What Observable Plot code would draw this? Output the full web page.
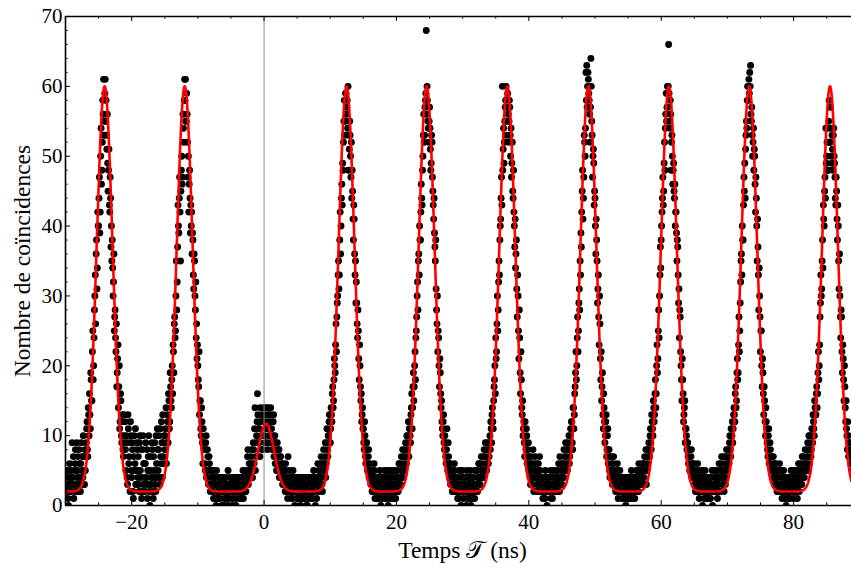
<!DOCTYPE html>
<html><head><meta charset="utf-8">
<script src="https://cdn.jsdelivr.net/npm/d3@7"></script>
<script src="https://cdn.jsdelivr.net/npm/@observablehq/plot@0.6"></script>
<style>
html,body{margin:0;padding:0;background:#fff;}
#chart svg{display:block; font-family:'Liberation Serif','Times New Roman','DejaVu Serif',serif !important;}
#chart svg text{font-family:'Liberation Serif','Times New Roman','DejaVu Serif',serif;}
</style>
</head><body><div id="chart"></div>
<script>
// Histogram of coincidences. Two interleaved series of bins (0.125 ns apart each):
// "counts" at -30 + i*0.125, "countsMid" at -30 + 0.0625 + i*0.125 (8 values per line = 1 ns)
const binStart = -30;
const binWidth = 0.125;
const counts = [
/* -30 */ 4,2,5,1,3,6,2,4,
/* -29 */ 9,3,1,5,8,2,4,7,
/* -28 */ 3,6,2,9,5,4,7,3,
/* -27 */ 5,9,12,7,13,16,11,18,
/* -26 */ 15,25,20,28,33,36,31,42,
/* -25 */ 40,47,42,54,48,58,61,55,
/* -24 */ 61,58,51,49,48,43,47,37,
/* -23 */ 35,34,32,25,28,22,17,21,
/* -22 */ 14,20,12,15,9,13,7,10,
/* -21 */ 12,5,9,3,11,7,2,10,
/* -20 */ 4,8,1,10,6,3,9,5,
/* -19 */ 7,2,10,4,1,8,3,6,
/* -18 */ 2,9,4,1,7,3,0,5,
/* -17 */ 3,8,1,4,9,2,6,11,
/* -16 */ 5,10,3,7,12,4,9,6,
/* -15 */ 8,11,6,13,9,15,12,17,
/* -14 */ 14,20,23,19,27,25,35,32,
/* -13 */ 43,39,47,35,48,46,56,52,
/* -12 */ 61,61,55,56,47,42,48,39,
/* -11 */ 40,36,38,31,35,28,24,21,
/* -10 */ 20,17,13,15,10,12,6,9,
/*  -9 */ 8,5,10,4,7,3,6,2,
/*  -8 */ 4,2,5,1,3,4,0,2,
/*  -7 */ 3,1,4,2,3,0,4,2,
/*  -6 */ 1,3,4,2,0,3,2,4,
/*  -5 */ 2,4,1,3,4,2,0,3,
/*  -4 */ 4,2,3,1,2,4,3,1,
/*  -3 */ 3,5,2,4,7,3,6,4,
/*  -2 */ 5,8,4,9,6,14,7,10,
/*  -1 */ 16,9,11,7,12,8,13,10,
/*   0 */ 12,9,14,11,8,14,10,13,
/*   1 */ 14,11,9,12,7,10,8,5,
/*   2 */ 9,6,8,5,7,4,6,3,
/*   3 */ 5,3,6,2,4,7,3,5,
/*   4 */ 2,4,1,5,3,0,4,2,
/*   5 */ 3,1,4,2,0,3,4,1,
/*   6 */ 2,4,3,0,3,1,4,2,
/*   7 */ 4,1,3,2,5,3,0,4,
/*   8 */ 3,6,2,5,4,7,3,6,
/*   9 */ 8,5,9,6,11,7,10,13,
/*  10 */ 9,14,12,17,15,21,19,26,
/*  11 */ 27,30,35,33,42,40,46,49,
/*  12 */ 52,58,55,59,57,54,48,51,
/*  13 */ 53,47,44,45,38,41,33,29,
/*  14 */ 29,24,25,18,20,15,12,14,
/*  15 */ 11,8,10,6,9,5,7,4,
/*  16 */ 6,3,5,2,4,6,1,3,
/*  17 */ 2,4,1,3,5,0,3,2,
/*  18 */ 4,2,3,5,1,3,0,4,
/*  19 */ 1,3,5,2,4,2,3,1,
/*  20 */ 3,5,2,6,4,3,7,5,
/*  21 */ 4,7,5,9,6,8,10,7,
/*  22 */ 12,9,14,11,17,15,20,18,
/*  23 */ 25,30,28,36,40,38,46,43,
/*  24 */ 50,56,53,58,68,60,55,52,
/*  25 */ 57,51,49,52,45,41,39,35,
/*  26 */ 31,26,22,24,17,19,14,12,
/*  27 */ 10,13,8,9,6,11,5,7,
/*  28 */ 4,6,3,5,2,4,6,3,
/*  29 */ 2,4,1,3,5,2,0,3,
/*  30 */ 3,1,4,2,3,5,1,2,
/*  31 */ 4,2,0,3,1,4,2,5,
/*  32 */ 3,5,2,4,6,3,5,4,
/*  33 */ 6,4,8,5,7,5,9,6,
/*  34 */ 7,10,12,9,14,11,17,20,
/*  35 */ 24,22,30,28,35,38,41,47,
/*  36 */ 60,51,49,55,58,53,57,56,
/*  37 */ 55,57,50,47,52,44,42,37,
/*  38 */ 34,38,27,30,21,24,16,18,
/*  39 */ 13,10,12,7,9,11,6,8,
/*  40 */ 5,7,3,6,4,8,2,5,
/*  41 */ 4,6,2,5,3,7,4,2,
/*  42 */ 3,1,4,2,5,3,0,4,
/*  43 */ 2,4,3,1,3,5,2,3,
/*  44 */ 4,2,5,3,6,2,4,5,
/*  45 */ 3,6,4,7,5,8,6,9,
/*  46 */ 8,6,10,9,12,8,14,13,
/*  47 */ 17,22,20,27,25,31,35,39,
/*  48 */ 42,48,44,53,50,62,63,60,
/*  49 */ 61,58,52,64,55,47,51,43,
/*  50 */ 44,36,38,29,33,23,26,18,
/*  51 */ 15,19,11,14,9,12,7,10,
/*  52 */ 6,8,4,7,5,3,6,4,
/*  53 */ 5,2,4,6,1,3,5,2,
/*  54 */ 3,1,4,2,3,0,4,2,
/*  55 */ 2,4,3,1,5,2,3,4,
/*  56 */ 1,3,5,2,4,6,3,4,
/*  57 */ 5,3,6,4,7,5,3,8,
/*  58 */ 6,9,7,11,8,12,10,14,
/*  59 */ 13,18,16,23,21,28,30,37,
/*  60 */ 38,42,47,45,52,54,59,57,
/*  61 */ 57,66,55,58,48,53,46,49,
/*  62 */ 44,40,42,35,37,29,24,27,
/*  63 */ 20,15,18,12,14,9,11,8,
/*  64 */ 9,6,8,5,7,4,6,5,
/*  65 */ 3,5,2,4,6,3,1,4,
/*  66 */ 2,4,0,3,1,5,3,2,
/*  67 */ 4,1,3,2,4,3,0,2,
/*  68 */ 3,5,2,4,1,3,6,2,
/*  69 */ 4,7,3,5,2,6,4,8,
/*  70 */ 5,8,6,10,7,9,12,11,
/*  71 */ 14,12,17,15,21,19,27,25,
/*  72 */ 32,36,40,38,47,49,51,55,
/*  73 */ 58,60,61,62,63,55,53,52,
/*  74 */ 48,50,42,44,35,37,28,30,
/*  75 */ 22,25,17,19,13,15,10,12,
/*  76 */ 9,7,11,6,8,5,7,4,
/*  77 */ 5,3,6,4,2,5,3,6,
/*  78 */ 2,4,1,3,5,2,4,0,
/*  79 */ 3,1,4,2,3,5,2,4,
/*  80 */ 1,3,5,2,4,3,6,2,
/*  81 */ 4,6,3,7,5,4,8,5,
/*  82 */ 6,9,5,8,10,7,11,9,
/*  83 */ 12,10,14,13,17,16,22,20,
/*  84 */ 27,33,31,38,43,40,47,54,
/*  85 */ 50,54,48,58,52,54,49,51,
/*  86 */ 53,50,47,43,45,38,40,31,
/*  87 */ 30,24,27,19,21,15,17,12,
/*  88 */ 11,8,10,7,9,6,8,5
];
const countsMid = [
/* -30 */ 2,5,3,0,4,2,5,3,
/* -29 */ 4,7,2,6,3,9,5,2,
/* -28 */ 8,4,6,3,7,10,5,8,
/* -27 */ 7,11,8,14,10,13,19,15,
/* -26 */ 22,18,24,30,26,38,34,40,
/* -25 */ 44,39,50,46,52,56,53,59,
/* -24 */ 55,53,56,45,51,42,44,40,
/* -23 */ 38,30,36,27,24,26,19,23,
/* -22 */ 17,11,16,10,12,8,13,9,
/* -21 */ 8,10,4,13,6,9,12,5,
/* -20 */ 9,2,7,5,11,3,8,4,
/* -19 */ 3,9,5,8,2,10,6,4,
/* -18 */ 6,3,8,5,10,2,7,4,
/* -17 */ 9,2,7,5,3,10,4,8,
/* -16 */ 8,4,11,6,9,13,7,10,
/* -15 */ 10,14,9,12,16,11,19,15,
/* -14 */ 18,16,22,26,24,30,28,37,
/* -13 */ 40,44,42,45,50,47,54,58,
/* -12 */ 58,55,59,52,50,46,44,43,
/* -11 */ 42,39,33,36,30,32,26,23,
/* -10 */ 18,22,15,11,14,9,11,8,
/*  -9 */ 6,9,4,8,5,7,3,5,
/*  -8 */ 3,5,2,4,1,3,5,1,
/*  -7 */ 2,4,1,3,4,2,3,0,
/*  -6 */ 4,2,1,3,5,1,3,2,
/*  -5 */ 3,0,4,2,3,4,1,2,
/*  -4 */ 2,3,4,2,1,3,5,2,
/*  -3 */ 4,2,5,3,8,5,4,6,
/*  -2 */ 7,4,6,8,11,5,9,12,
/*  -1 */ 13,11,9,14,10,12,8,14,
/*   0 */ 10,13,11,9,12,13,11,9,
/*   1 */ 12,8,10,13,9,6,9,7,
/*   2 */ 6,8,4,7,5,6,3,5,
/*   3 */ 4,2,5,3,1,4,2,3,
/*   4 */ 3,1,4,2,4,2,3,1,
/*   5 */ 4,2,3,1,4,2,1,3,
/*   6 */ 3,1,2,4,0,3,2,4,
/*   7 */ 2,3,1,4,2,4,3,1,
/*   8 */ 4,2,5,3,6,4,2,5,
/*   9 */ 6,7,4,9,8,10,12,9,
/*  10 */ 11,13,16,14,18,20,23,22,
/*  11 */ 29,33,31,38,36,44,43,48,
/*  12 */ 55,53,59,56,58,60,53,55,
/*  13 */ 50,52,48,41,43,36,35,32,
/*  14 */ 26,28,21,23,17,16,13,11,
/*  15 */ 9,12,7,9,8,6,8,5,
/*  16 */ 4,5,2,4,3,5,2,4,
/*  17 */ 3,1,4,2,3,4,1,3,
/*  18 */ 2,5,1,4,2,3,5,2,
/*  19 */ 4,2,3,1,3,5,2,4,
/*  20 */ 5,2,4,3,6,4,5,8,
/*  21 */ 6,5,8,7,10,9,12,11,
/*  22 */ 10,13,16,14,19,17,22,24,
/*  23 */ 27,32,35,33,38,42,44,48,
/*  24 */ 53,52,57,59,56,58,54,55,
/*  25 */ 54,48,53,47,43,44,37,38,
/*  26 */ 28,30,25,20,21,16,15,11,
/*  27 */ 12,9,10,7,8,6,9,5,
/*  28 */ 6,3,5,2,4,3,5,2,
/*  29 */ 4,2,3,1,3,4,2,5,
/*  30 */ 2,4,2,3,0,3,4,1,
/*  31 */ 3,5,1,4,2,3,1,3,
/*  32 */ 5,2,4,6,3,4,7,5,
/*  33 */ 4,7,5,9,6,8,6,8,
/*  34 */ 9,8,11,13,12,15,18,16,
/*  35 */ 21,26,25,32,33,40,44,43,
/*  36 */ 48,54,52,57,60,55,59,52,
/*  37 */ 58,53,54,49,45,48,40,41,
/*  38 */ 36,31,33,25,28,19,22,14,
/*  39 */ 15,11,9,12,8,10,7,9,
/*  40 */ 6,4,7,5,3,6,4,7,
/*  41 */ 5,3,4,6,2,5,3,4,
/*  42 */ 2,4,3,1,3,2,4,3,
/*  43 */ 4,2,5,3,1,4,3,2,
/*  44 */ 3,5,2,4,4,7,3,6,
/*  45 */ 5,4,8,6,9,7,5,8,
/*  46 */ 10,7,11,12,9,14,11,16,
/*  47 */ 19,18,24,22,29,28,33,37,
/*  48 */ 45,41,47,52,54,58,57,62,
/*  49 */ 59,56,57,60,53,50,49,45,
/*  50 */ 40,41,35,31,27,30,21,22,
/*  51 */ 17,13,16,12,10,13,8,11,
/*  52 */ 8,5,7,5,6,4,7,3,
/*  53 */ 3,4,2,5,3,4,2,4,
/*  54 */ 4,2,3,1,4,2,3,1,
/*  55 */ 3,1,4,2,3,4,1,3,
/*  56 */ 2,4,3,5,2,4,5,3,
/*  57 */ 4,6,5,3,6,8,5,7,
/*  58 */ 8,7,10,9,13,11,15,12,
/*  59 */ 16,14,20,19,25,24,33,34,
/*  60 */ 40,44,43,49,48,56,55,60,
/*  61 */ 60,59,54,56,52,50,48,45,
/*  62 */ 46,42,39,38,33,31,28,22,
/*  63 */ 18,21,16,13,15,11,10,9,
/*  64 */ 7,8,5,6,8,5,4,6,
/*  65 */ 4,2,5,3,4,2,5,3,
/*  66 */ 3,5,2,4,2,3,4,1,
/*  67 */ 2,3,4,1,3,5,2,3,
/*  68 */ 4,2,3,5,3,4,2,5,
/*  69 */ 6,5,4,7,5,3,7,6,
/*  70 */ 7,6,9,8,11,10,9,13,
/*  71 */ 13,16,14,19,18,23,22,29,
/*  72 */ 35,33,38,43,45,44,53,54,
/*  73 */ 60,58,59,60,56,57,50,54,
/*  74 */ 51,46,47,40,41,33,34,27,
/*  75 */ 25,20,21,16,17,12,14,11,
/*  76 */ 8,10,6,9,7,6,5,7,
/*  77 */ 4,6,3,5,4,3,5,2,
/*  78 */ 3,5,2,4,3,1,3,4,
/*  79 */ 2,4,3,1,4,2,3,5,
/*  80 */ 4,2,3,5,1,4,3,5,
/*  81 */ 3,5,7,4,6,5,6,7,
/*  82 */ 8,7,10,6,9,8,10,13,
/*  83 */ 11,15,13,16,14,19,18,23,
/*  84 */ 29,30,35,34,41,45,44,49,
/*  85 */ 52,48,55,52,57,50,53,48,
/*  86 */ 54,49,44,47,41,43,35,36,
/*  87 */ 27,28,22,23,18,20,14,15,
/*  88 */ 10,12,7,9,8,7,6,9
];

// Fitted model (sum of Gaussian peaks on a flat background) — parameters
const fitCenters    = [-24.09, -11.99, 0.3, 12.46, 24.56, 36.75, 49.0, 61.16, 73.3, 85.5];
const fitAmplitudes = [58, 58, 9.7, 58, 58, 58, 58, 58, 58, 58];
const fitSigma = 1.2;
const fitBaseline = 2;

const xDomain = [-30, 88.75];
const yDomain = [0, 70];
const xTicksMajor = [-20, 0, 20, 40, 60, 80];
const xTicksMinor = [-25, -15, -10, -5, 5, 10, 15, 25, 30, 35, 45, 50, 55, 65, 70, 75, 85];
const yTicksMajor = [0, 10, 20, 30, 40, 50, 60, 70];
const yTicksMinor = [2,4,6,8,12,14,16,18,22,24,26,28,32,34,36,38,42,44,46,48,52,54,56,58,62,64,66,68];
const xLabel = "Temps 𝒯 (ns)";
const yLabel = "Nombre de coïncidences";

const points = [
  ...counts.map((c, i) => ({x: binStart + i * binWidth, y: c})),
  ...countsMid.map((c, i) => ({x: binStart + binWidth / 2 + i * binWidth, y: c}))
];
const fit = x => fitBaseline + d3.sum(fitCenters, (c, k) => fitAmplitudes[k] * Math.exp(-((x - c) ** 2) / (2 * fitSigma ** 2)));
const curve = d3.range(xDomain[0], xDomain[1] + 0.05, 0.04).map(x => ({x, y: fit(x)}));

const W = 851, H = 570, mT = 16, mB = 65, mL = 65, mR = 0;
const yPerPx = (yDomain[1] - yDomain[0]) / (H - mT - mB);
const xPerPx = (xDomain[1] - xDomain[0]) / (W - mL - mR);
const majLen = 5, minLen = 2.6;
const font = "Liberation Serif, Times New Roman, DejaVu Serif, serif";

const tickRulesX = (ticks, len) => [
  Plot.ruleX(ticks, {x: d => d, y1: yDomain[0], y2: yDomain[0] + len * yPerPx, stroke: "black", strokeWidth: 1}),
  Plot.ruleX(ticks, {x: d => d, y1: yDomain[1], y2: yDomain[1] - len * yPerPx, stroke: "black", strokeWidth: 1})
];
const tickRulesY = (ticks, len) => [
  Plot.ruleY(ticks, {y: d => d, x1: xDomain[0], x2: xDomain[0] + len * xPerPx, stroke: "black", strokeWidth: 1})
];

const chart = Plot.plot({
  width: W, height: H,
  marginTop: mT, marginBottom: mB, marginLeft: mL, marginRight: mR,
  style: {fontFamily: font, fontSize: "21px", color: "black", background: "white"},
  x: {domain: xDomain},
  y: {domain: yDomain},
  marks: [
    Plot.axisX({ticks: xTicksMajor, tickSize: 0, tickPadding: 9, label: null, fontSize: 21, fontFamily: font}),
    Plot.axisY({ticks: yTicksMajor, tickSize: 0, tickPadding: 3, label: null, fontSize: 21, fontFamily: font}),
    Plot.dot(points, {x: "x", y: "y", r: 3.45, fill: "black", stroke: null, clip: true}),
    Plot.ruleX([0], {stroke: "#8a8a8a", strokeWidth: 1}),
    Plot.line(curve, {x: "x", y: "y", stroke: "#ff0000", strokeWidth: 2.6, clip: true}),
    ...tickRulesX(xTicksMajor, majLen), ...tickRulesX(xTicksMinor, minLen),
    ...tickRulesY(yTicksMajor, majLen), ...tickRulesY(yTicksMinor, minLen),
    Plot.ruleY([yDomain[0], yDomain[1]], {stroke: "black", strokeWidth: 1.6}),
    Plot.ruleX([xDomain[0]], {stroke: "black", strokeWidth: 1.6}),
    Plot.text([xLabel], {frameAnchor: "bottom", dy: 45, dx: 4, fontSize: 23.5, fontFamily: font, lineAnchor: "middle", textAnchor: "middle", fill: "black"}),
    Plot.text([yLabel], {frameAnchor: "left", dx: -43, rotate: -90, fontSize: 23.5, fontFamily: font, lineAnchor: "middle", textAnchor: "middle", fill: "black"})
  ]
});
document.getElementById("chart").appendChild(chart);
</script>
</body></html>
